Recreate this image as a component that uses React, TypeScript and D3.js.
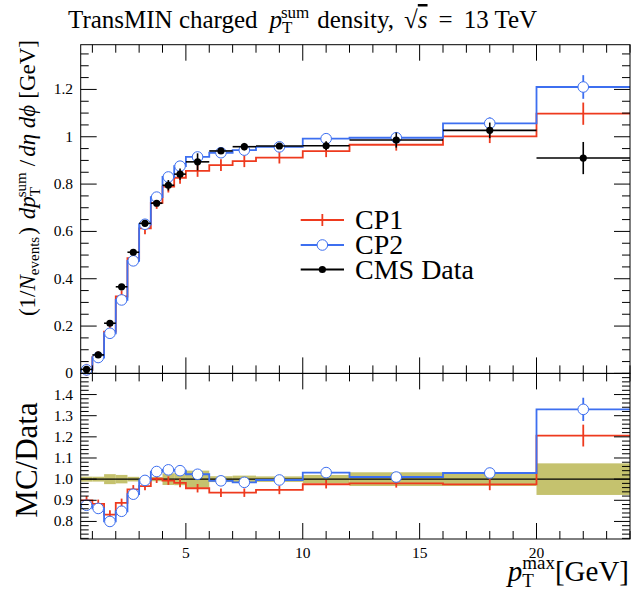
import React from "react";
import * as d3 from "d3";

const binLo = [0.5, 1, 1.5, 2, 2.5, 3, 3.5, 4, 4.5, 5, 6, 7, 8, 10, 12, 16, 20];
const binHi = [1, 1.5, 2, 2.5, 3, 3.5, 4, 4.5, 5, 6, 7, 8, 10, 12, 16, 20, 24];
const dataVals = [0.017, 0.078, 0.212, 0.366, 0.512, 0.634, 0.719, 0.795, 0.842, 0.894, 0.94, 0.958, 0.961, 0.962, 0.986, 1.027, 0.91];
const dataErr = [0.0002, 0.0009, 0.005, 0.0073, 0.0056, 0.0044, 0.007, 0.022, 0.024, 0.036, 0.013, 0.016, 0.0125, 0.019, 0.032, 0.033, 0.068];
const cp1Vals = [0.0153, 0.0689, 0.1764, 0.325, 0.4874, 0.6131, 0.7204, 0.7894, 0.8268, 0.8556, 0.8798, 0.8967, 0.912, 0.9389, 0.9663, 1.0013, 1.0975];
const cp1Err = [0.0003, 0.0014, 0.0044, 0.0065, 0.0097, 0.012, 0.014, 0.016, 0.017, 0.017, 0.018, 0.018, 0.016, 0.017, 0.017, 0.028, 0.047];
const cp2Vals = [0.0149, 0.0672, 0.1696, 0.3104, 0.4756, 0.6302, 0.7449, 0.83, 0.8757, 0.9146, 0.9325, 0.9436, 0.9572, 0.9918, 0.9959, 1.0568, 1.2103];
const cp2Err = [0.0003, 0.0013, 0.0034, 0.006, 0.0095, 0.012, 0.015, 0.016, 0.017, 0.018, 0.018, 0.018, 0.017, 0.018, 0.018, 0.025, 0.05];

const xTickMajor = [5, 10, 15, 20];
const mainYLabels = ["0", "0.2", "0.4", "0.6", "0.8", "1", "1.2"];
const ratioYLabels = ["0.8", "0.9", "1.0", "1.1", "1.2", "1.3", "1.4"];
const legendNames = ["CP1", "CP2", "CMS Data"];

const RED = "#ee3a1e";
const BLUE = "#3d6ff0";
const BAND = "#bfbb5e";
const FONT = "'Liberation Serif', 'DejaVu Serif', serif";

const W = 634, H = 591;
const X0 = 80.7, X1 = 630;
const YT = 44.7, YM = 373.4, YB = 539;

export default function App() {
  const x = d3.scaleLinear().domain([0.5, 24]).range([X0, X1]);
  const y = d3.scaleLinear().domain([0, 1.389]).range([YM, YT]);
  const yr = d3.scaleLinear().domain([0.717, 1.5]).range([YB, YM]);
  const centers = binLo.map((l, i) => (l + binHi[i]) / 2);

  const stepPath = (vals: number[], sc: d3.ScaleLinear<number, number>) => {
    const pts: [number, number][] = [];
    vals.forEach((v, i) => {
      pts.push([x(binLo[i]), sc(v)]);
      pts.push([x(binHi[i]), sc(v)]);
    });
    return d3.line()(pts) || "";
  };

  const cp1Ratio = cp1Vals.map((v, i) => v / dataVals[i]);
  const cp2Ratio = cp2Vals.map((v, i) => v / dataVals[i]);
  const cp1RErr = cp1Err.map((e, i) => e / dataVals[i]);
  const cp2RErr = cp2Err.map((e, i) => e / dataVals[i]);
  const dataRel = dataErr.map((e, i) => e / dataVals[i]);
  const ones = dataVals.map(() => 1);

  const xMinor = d3.range(1, 25, 1);
  const yMinor = d3.range(0, 1.3901, 0.05);
  const yMajor = d3.range(0, 1.3, 0.2);
  const rMinor = d3.range(0.72, 1.5001, 0.02);
  const rMajor = d3.range(0.8, 1.45, 0.1);
  const MAJ = 16, MIN = 8;

  const tickLines: React.ReactNode[] = [];
  xMinor.forEach((t) => {
    const len = xTickMajor.includes(t) ? MAJ : MIN;
    const xx = x(t);
    tickLines.push(<line key={"xt1" + t} x1={xx} x2={xx} y1={YT} y2={YT + len} />);
    tickLines.push(<line key={"xt2" + t} x1={xx} x2={xx} y1={YM} y2={YM - len} />);
    tickLines.push(<line key={"xt3" + t} x1={xx} x2={xx} y1={YM} y2={YM + len} />);
    tickLines.push(<line key={"xt4" + t} x1={xx} x2={xx} y1={YB} y2={YB - len} />);
  });
  yMinor.forEach((t, i) => {
    const isMaj = yMajor.some((m) => Math.abs(m - t) < 1e-6);
    const len = isMaj ? MAJ : MIN;
    const yy = y(t);
    tickLines.push(<line key={"yt1" + i} x1={X0} x2={X0 + len} y1={yy} y2={yy} />);
    tickLines.push(<line key={"yt2" + i} x1={X1} x2={X1 - len} y1={yy} y2={yy} />);
  });
  rMinor.forEach((t, i) => {
    const isMaj = rMajor.some((m) => Math.abs(m - t) < 1e-6);
    const len = isMaj ? MAJ : MIN;
    const yy = yr(t);
    tickLines.push(<line key={"rt1" + i} x1={X0} x2={X0 + len} y1={yy} y2={yy} />);
    tickLines.push(<line key={"rt2" + i} x1={X1} x2={X1 - len} y1={yy} y2={yy} />);
  });

  const legY = [220, 245, 269.5];
  const legX0 = 300.7, legX1 = 344, legTX = 355;

  return (
    <svg width={W} height={H} style={{ position: "absolute", left: 0, top: 0, background: "#fff" }} fontFamily={FONT}>
      <rect x={0} y={0} width={W} height={H} fill="#fff" />
      {/* Title */}
      <text x={68} y={28} fontSize={25} fill="#000">
        TransMIN charged
        <tspan fontStyle="italic" dx={12}>p</tspan>
        <tspan fontSize={17} dy={5}>T</tspan>
        <tspan fontSize={17} dx={-10.4} dy={-15}>sum</tspan>
        <tspan dx={8} dy={10}>density,</tspan>
        <tspan dx={10}>√</tspan>
        <tspan fontStyle="italic" textDecoration="overline">s</tspan>
        <tspan dx={11}>=</tspan>
        <tspan dx={11}>13 TeV</tspan>
      </text>

      {/* Ratio band */}
      <g>
        {dataRel.map((e, i) => (
          <rect key={"band" + i} x={x(binLo[i])} width={x(binHi[i]) - x(binLo[i])} y={yr(1 + e)} height={yr(1 - e) - yr(1 + e)} fill={BAND} opacity={0.9} />
        ))}
        <path d={stepPath(ones, yr)} stroke="#000" strokeWidth={1.3} fill="none" />
      </g>

      {/* Main MC */}
      <g fill="none" strokeWidth={1.8}>
        <path d={stepPath(cp1Vals, y)} stroke={RED} />
        {centers.map((c, i) => (
          <line key={"c1e" + i} x1={x(c)} x2={x(c)} y1={y(cp1Vals[i] + Math.max(cp1Err[i], 0.025))} y2={y(cp1Vals[i] - Math.max(cp1Err[i], 0.025))} stroke={RED} />
        ))}
        <path d={stepPath(cp2Vals, y)} stroke={BLUE} />
        {centers.map((c, i) => (
          <line key={"c2e" + i} x1={x(c)} x2={x(c)} y1={y(cp2Vals[i] + cp2Err[i])} y2={y(cp2Vals[i] - cp2Err[i])} stroke={BLUE} />
        ))}
        {centers.map((c, i) => (
          <circle key={"c2m" + i} cx={x(c)} cy={y(cp2Vals[i])} r={5.3} fill="#fff" stroke={BLUE} strokeWidth={1} />
        ))}
      </g>
      {/* Data */}
      <g stroke="#000" strokeWidth={1.6}>
        {centers.map((c, i) => (
          <g key={"d" + i}>
            <line x1={x(binLo[i])} x2={x(binHi[i])} y1={y(dataVals[i])} y2={y(dataVals[i])} />
            <line x1={x(c)} x2={x(c)} y1={y(dataVals[i] + dataErr[i])} y2={y(dataVals[i] - dataErr[i])} />
            <circle cx={x(c)} cy={y(dataVals[i])} r={3.6} fill="#000" stroke="none" />
          </g>
        ))}
      </g>

      {/* Ratio MC */}
      <g fill="none" strokeWidth={1.8}>
        <path d={stepPath(cp1Ratio, yr)} stroke={RED} />
        {centers.map((c, i) => (
          <line key={"r1e" + i} x1={x(c)} x2={x(c)} y1={yr(cp1Ratio[i] + Math.max(cp1RErr[i], 0.02))} y2={yr(cp1Ratio[i] - Math.max(cp1RErr[i], 0.02))} stroke={RED} />
        ))}
        <path d={stepPath(cp2Ratio, yr)} stroke={BLUE} />
        {centers.map((c, i) => (
          <line key={"r2e" + i} x1={x(c)} x2={x(c)} y1={yr(cp2Ratio[i] + cp2RErr[i])} y2={yr(cp2Ratio[i] - cp2RErr[i])} stroke={BLUE} />
        ))}
        {centers.map((c, i) => (
          <circle key={"r2m" + i} cx={x(c)} cy={yr(cp2Ratio[i])} r={5.3} fill="#fff" stroke={BLUE} strokeWidth={1} />
        ))}
      </g>

      {/* Legend */}
      <g>
        {legendNames.map((n, i) => (
          <g key={"leg" + i}>
            <line x1={legX0} x2={legX1} y1={legY[i]} y2={legY[i]} stroke={i === 0 ? RED : i === 1 ? BLUE : "#000"} strokeWidth={1.8} />
            {i === 0 && <line x1={(legX0 + legX1) / 2} x2={(legX0 + legX1) / 2} y1={legY[i] - 6} y2={legY[i] + 6} stroke={RED} strokeWidth={1.8} />}
            {i === 1 && <circle cx={(legX0 + legX1) / 2} cy={legY[i]} r={5.3} fill="#fff" stroke={BLUE} strokeWidth={1} />}
            {i === 2 && <circle cx={(legX0 + legX1) / 2} cy={legY[i]} r={3.6} fill="#000" />}
            <text x={legTX} y={legY[i] + 9} fontSize={28}>{n}</text>
          </g>
        ))}
      </g>

      {/* Frames and ticks */}
      <g stroke="#000" strokeWidth={1} fill="none">
        <rect x={X0} y={YT} width={X1 - X0} height={YM - YT} />
        <rect x={X0} y={YM} width={X1 - X0} height={YB - YM} />
        {tickLines}
      </g>

      {/* Tick labels */}
      <g fontSize={15.5} fill="#000">
        {mainYLabels.map((l) => (
          <text key={"my" + l} x={73} y={y(+l) + 5} textAnchor="end">{l}</text>
        ))}
        {ratioYLabels.map((l) => (
          <text key={"ry" + l} x={73} y={yr(+l) + 5} textAnchor="end">{l}</text>
        ))}
        {xTickMajor.map((t) => (
          <text key={"xl" + t} x={x(t)} y={558} textAnchor="middle">{t}</text>
        ))}
      </g>

      {/* Axis titles */}
      <text x={629} y={581} fontSize={29} textAnchor="end">
        <tspan fontStyle="italic">p</tspan>
        <tspan fontSize={19} dy={6}>T</tspan>
        <tspan fontSize={19} dx={-11.6} dy={-18}>max</tspan>
        <tspan dy={12}>[GeV]</tspan>
      </text>
      <text transform="translate(35,40) rotate(-90)" fontSize={23} textAnchor="end">
        (1/<tspan fontStyle="italic">N</tspan>
        <tspan fontSize={15} dy={4}>events</tspan>
        <tspan dy={-4} dx={2}>)</tspan>
        <tspan fontStyle="italic" dx={8}>dp</tspan>
        <tspan fontSize={15} dy={5}>T</tspan>
        <tspan fontSize={15} dx={-9.2} dy={-14}>sum</tspan>
        <tspan dy={9} dx={6}>/</tspan>
        <tspan fontStyle="italic" dx={3}>dη dϕ</tspan>
        <tspan dx={6}>[GeV]</tspan>
      </text>
      <text transform="translate(37,460) rotate(-90)" fontSize={31} textAnchor="middle">MC/Data</text>
    </svg>
  );
}
